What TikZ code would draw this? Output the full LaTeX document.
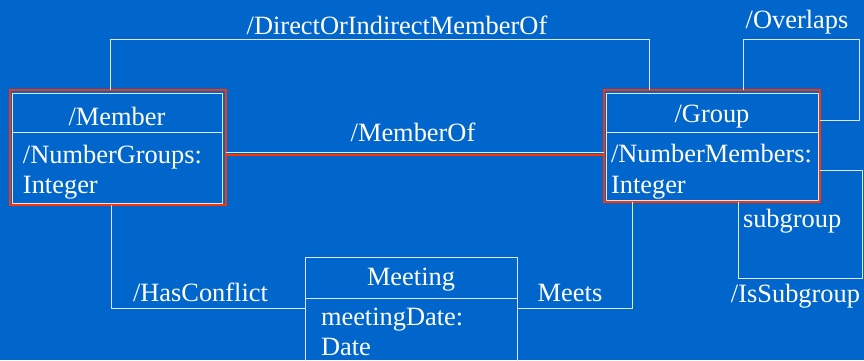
\documentclass[tikz,border=0pt]{standalone}
\usepackage{fontspec}
\setmainfont{Liberation Serif}
\definecolor{slide}{RGB}{0,102,204}
\definecolor{hl}{RGB}{255,51,0}
\definecolor{rule}{RGB}{222,232,246}
\begin{document}
\begin{tikzpicture}[x=1pt,y=-1pt,
  every node/.style={font=\fontsize{26.4}{30}\selectfont, text=white, inner sep=0pt, outer sep=0pt},
  classbox/.style={draw=rule, line width=1pt, rectangle},
  framebox/.style={draw=hl, line width=2.2pt, rectangle},
  link/.style={draw=rule, line width=1pt},
  hlink/.style={draw=hl, line width=2.2pt},
  lbl/.style={anchor=base},
  attr/.style={anchor=base west}]
\fill[slide] (0,0) rectangle (864,360);
\useasboundingbox (0,0) rectangle (864,360);

% class boxes
\node[classbox, minimum width=210pt, minimum height=110pt] (member) at (117,148) {};
\node[classbox, minimum width=212pt, minimum height=107pt] (group) at (712,146.5) {};
\node[classbox, minimum width=212pt, minimum height=143pt] (meeting) at (411,328.5) {};

% compartment dividers
\draw[link] (member.north west) ++(0,39) -- ++(210,0);
\draw[link] (group.north west) ++(0,39) -- ++(212,0);
\draw[link] (meeting.north west) ++(0,41) -- ++(212,0);

% highlight frames
\node[framebox, minimum width=216pt, minimum height=115pt] (mframe) at (118,147.5) {};
\node[framebox, minimum width=216pt, minimum height=112pt] (gframe) at (712,146) {};

% class names and attributes
\node[lbl] (mname) at (117,125) {/Member};
\node[attr] (mattrA) at (23,163) {/NumberGroups:};
\node[attr] (mattrB) at (23,193) {Integer};
\node[lbl] (gname) at (712,122) {/Group};
\node[attr] (gattrA) at (611,162) {/NumberMembers:};
\node[attr] (gattrB) at (611,193) {Integer};
\node[lbl] (tname) at (411,285) {Meeting};
\node[attr] (tattrA) at (321,325) {meetingDate:};
\node[attr] (tattrB) at (321,355) {Date};

% routing points
\coordinate (ddL) at (110,39);
\coordinate (ddR) at (649,39);
\coordinate (mo) at (0,152);
\coordinate (moh) at (0,155);
\coordinate (hcL) at (111,308);
\coordinate (mtR) at (632,308);
\coordinate (ovA) at (743,39);
\coordinate (ovB) at (859,120);
\coordinate (isA) at (738,278);
\coordinate (isB) at (862,170);

% associations
\draw[link] (mframe.north -| ddL) -- (ddL) -- (ddR) -- (gframe.north -| ddR);
\draw[link] (mframe.east |- mo) -- (gframe.west |- mo);
\draw[hlink] (mframe.east |- moh) -- (gframe.west |- moh);
\draw[link] (mframe.south -| hcL) -- (hcL) -- (meeting.west |- hcL);
\draw[link] (meeting.east |- mtR) -- (mtR) -- (gframe.south -| mtR);
\draw[link] (gframe.north -| ovA) -- (ovA) -| (ovB) -- (gframe.east |- ovB);
\draw[link] (gframe.south -| isA) -- (isA) -| (isB) -- (gframe.east |- isB);

% association labels
\node[lbl] (ldd) at (397,34) {/DirectOrIndirectMemberOf};
\node[lbl] (lmo) at (413,141) {/MemberOf};
\node[lbl] (lov) at (797,28) {/Overlaps};
\node[attr] (lsub) at (743,227) {subgroup};
\node[lbl] (lis) at (795.5,302) {/IsSubgroup};
\node[lbl] (lhc) at (200.5,301) {/HasConflict};
\node[lbl] (lmt) at (570,301) {Meets};
\end{tikzpicture}
\end{document}
